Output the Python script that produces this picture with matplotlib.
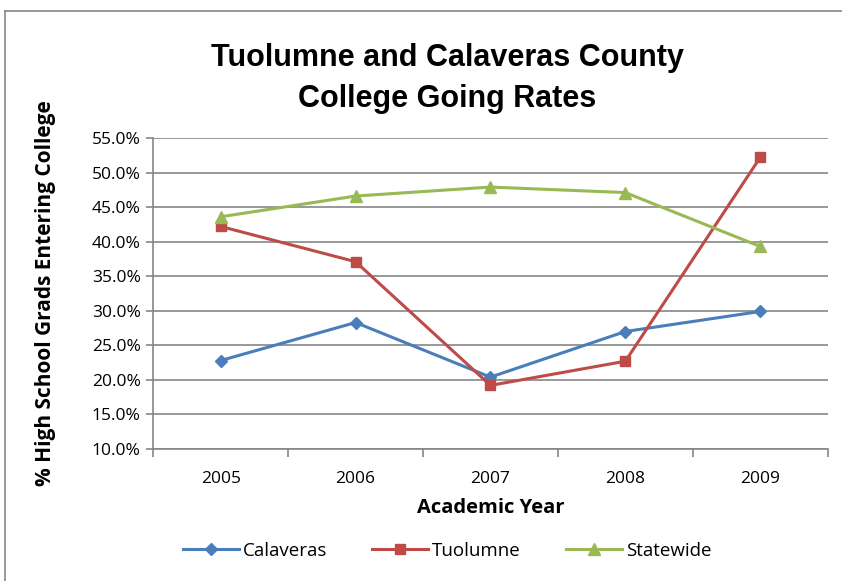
import matplotlib.pyplot as plt
from matplotlib.lines import Line2D
from matplotlib.ticker import FixedLocator, NullFormatter, PercentFormatter

years = ["2005", "2006", "2007", "2008", "2009"]
calaveras = [22.8, 28.3, 20.4, 27.0, 29.9]
tuolumne = [42.2, 37.1, 19.2, 22.7, 52.2]
statewide = [43.6, 46.6, 47.9, 47.1, 39.3]

font = ["Liberation Sans Narrow", "Liberation Sans", "DejaVu Sans"]
plt.rcParams["font.family"] = ["Open Sans", "DejaVu Sans"]

fig = plt.figure(figsize=(8.42, 5.81), dpi=100)
ax = fig.add_axes([0.182, 0.2272, 0.801, 0.5353])

x = list(range(len(years)))
ax.plot(x, calaveras, color="#4A7EBB", lw=2.2, marker="D", ms=6.5, label="Calaveras")
ax.plot(x, tuolumne, color="#BE4B48", lw=2.2, marker="s", ms=7.5, label="Tuolumne")
ax.plot(x, statewide, color="#98B954", lw=2.2, marker="^", ms=8.5, label="Statewide")

ax.set_xlim(-0.5, len(years) - 0.5)
ax.set_ylim(10, 55)
ax.set_yticks(range(10, 56, 5))
ax.yaxis.set_major_formatter(PercentFormatter(decimals=1))
ax.set_xticks(x)
ax.set_xticklabels(years)
ax.xaxis.set_minor_locator(FixedLocator([i - 0.5 for i in range(len(years) + 1)]))
ax.xaxis.set_minor_formatter(NullFormatter())
ax.tick_params(axis="x", which="major", length=0, pad=16, labelsize=12.5)
ax.tick_params(axis="x", which="minor", length=6, width=1.2, color="#868686")
ax.tick_params(axis="y", length=5, width=1.2, color="#868686", labelsize=12.5, pad=4)

ax.grid(axis="y", color="#868686", lw=1.2)
ax.set_axisbelow(True)
for side in ["top", "right"]:
    ax.spines[side].set_visible(False)
for side in ["left", "bottom"]:
    ax.spines[side].set_color("#868686")
    ax.spines[side].set_linewidth(1.2)

ax.set_xlabel("Academic Year", fontsize=14.5, fontweight="bold", labelpad=8)
ax.set_ylabel("% High School Grads Entering College", fontsize=15, fontweight="bold", labelpad=26)
fig.text(0.531, 0.865, "Tuolumne and Calaveras County\nCollege Going Rates",
         ha="center", va="center", fontsize=22, fontweight="bold",
         family=font, linespacing=1.45)

fig.legend(loc="center", bbox_to_anchor=(0.531, 0.052), ncol=3, frameon=False,
           fontsize=13.5, handlelength=3.0, columnspacing=2.4, handletextpad=0.2)

fig.add_artist(Line2D([0.006, 0.006], [0.0, 0.981], color="#868686", lw=1.2))
fig.add_artist(Line2D([0.006, 1.0], [0.981, 0.981], color="#868686", lw=1.2))

plt.savefig("out.png")
plt.close()
